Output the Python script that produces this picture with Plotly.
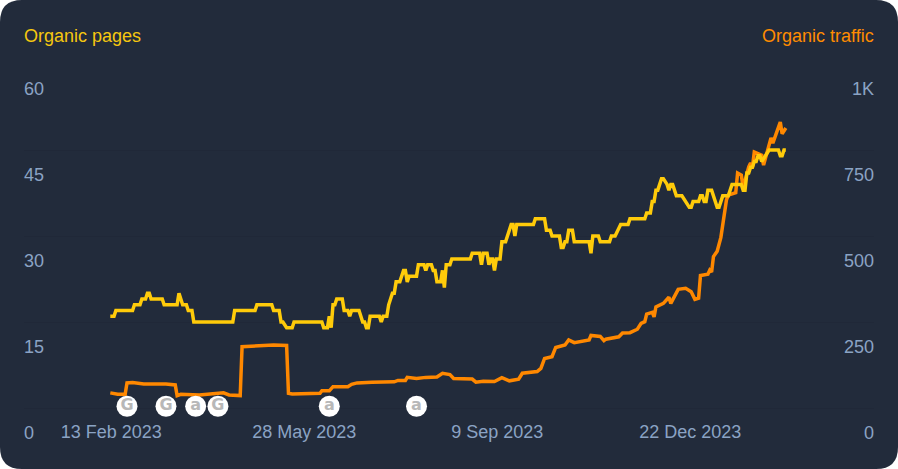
import datetime as dt
import plotly.graph_objects as go

START = dt.date(2023, 2, 13)

pages_days = [0,2,3,12,13,16,17,19,20,21,22,28,29,36,37,39,41,42,44,45,66,67,78,79,87,88,91,92,93,95,98,99,114,115,117,118,119,120,121,122,125,126,128,129,130,134,136,137,138,139,140,145,146,147,149,150,152,153,154,156,158,159,160,161,165,166,169,170,171,173,174,175,176,178,179,180,181,183,184,194,195,199,200,201,203,204,205,206,207,208,210,211,213,214,216,217,218,219,228,229,234,235,237,238,242,243,244,245,246,247,249,250,258,259,260,263,264,269,270,272,275,279,280,288,289,291,292,293,294,295,297,298,300,301,302,303,305,308,310,312,313,314,317,318,319,320,321,322,324,327,328,330,333,334,335,340,341,342,343,344,345,346,347,348,349,350,351,353,355,360,361,362,363,364]
pages = [16,16,17,17,18,18,19,19,20,20,19,19,18,18,20,18,18,17,17,15,15,17,17,18,18,17,17,15,15,14,14,15,15,14,14,16,14,18,18,19,19,17,17,16,17,17,15,15,14,14,16,16,15,16,16,18,20,20,22,22,24,24,22,23,23,25,25,24,25,25,24,24,22,22,24,21,25,25,26,26,27,27,25,27,27,25,26,26,24,26,26,29,29,30,32,32,30,32,32,33,33,31,31,30,30,28,28,29,29,31,31,29,29,27,30,30,29,29,30,30,32,32,33,33,34,34,36,36,38,38,40,40,39,38,39,39,37,37,36,35,35,36,36,37,37,36,36,38,38,35,35,37,37,38,39,39,38,38,41,41,42,42,43,43,44,44,43,44,45,45,44,44,45,45]

traffic_days = [0,4,8,9,12,18,30,35,36,38,48,61,64,70,71,79,88,95,96,98,113,114,118,120,124,128,130,133,141,153,155,159,160,165,170,176,179,183,185,195,197,201,207,211,215,220,222,230,232,234,238,240,245,247,250,258,259,264,266,267,274,276,280,284,286,288,289,292,293,294,298,301,302,306,310,313,315,317,318,322,323,324,325,327,329,331,332,333,337,338,340,341,343,344,345,346,347,351,352,354,356,357,359,361,362,364]
traffic = [44,40,40,73,74,70,70,67,36,40,38,44,38,36,178,180,183,182,43,41,43,50,50,62,61,62,69,73,75,76,80,80,89,86,89,90,101,97,86,84,75,78,77,88,79,84,101,106,115,144,149,176,183,198,190,198,211,208,196,200,207,218,219,229,246,251,273,278,265,294,304,322,304,345,348,338,316,319,385,389,401,395,440,456,496,560,605,619,626,683,677,640,683,701,712,700,744,735,706,750,785,770,800,831,797,814]

marker_days = [9, 30, 46, 58, 118, 165]
marker_labels = ["G", "G", "a", "G", "a", "a"]
marker_level = [0.3] * 6

x_ticks = ["2023-02-13", "2023-05-28", "2023-09-09", "2023-12-22"]
pages_ticks = [0, 15, 30, 45, 60]
traffic_ticks = [0, 250, 500, 750, 1000]
traffic_tick_text = ["0", "250", "500", "750", "1K"]

def to_dates(days):
    return [START + dt.timedelta(days=d) for d in days]

BG = "#222b3b"
GRID = "#202838"
TICK = "#8ba3c4"
YELLOW = "#ffcb0a"
ORANGE = "#ff8800"
FONT = "Liberation Sans, Arial, sans-serif"

# The value axes run a little below zero so the zero labels (drawn under the baseline) stay visible.
PAGES_RANGE = [-40 * 60 / 344, 60]
TRAFFIC_RANGE = [-40 * 1000 / 344, 1000]

fig = go.Figure()
fig.add_trace(go.Scatter(x=to_dates(traffic_days), y=traffic, yaxis="y", mode="lines",
                         line=dict(color=ORANGE, width=3.5), hoverinfo="skip"))
fig.add_trace(go.Scatter(x=to_dates(pages_days), y=pages, yaxis="y2", mode="lines",
                         line=dict(color=YELLOW, width=3.5), hoverinfo="skip"))
fig.add_trace(go.Scatter(x=to_dates(marker_days), y=marker_level, yaxis="y2", mode="markers+text",
                         marker=dict(color="white", size=21), text=marker_labels,
                         textposition="middle center",
                         textfont=dict(family="DejaVu Sans, sans-serif", size=16, color="#b8b8b8", weight="bold"),
                         cliponaxis=False, hoverinfo="skip"))

r_x, r_y = 22 / 898, 22 / 469
panel = (f"M {r_x} 0 L {1-r_x} 0 Q 1 0 1 {r_y} L 1 {1-r_y} Q 1 1 {1-r_x} 1 "
         f"L {r_x} 1 Q 0 1 0 {1-r_y} L 0 {r_y} Q 0 0 {r_x} 0 Z")

fig.update_layout(
    width=898, height=469, showlegend=False,
    margin=dict(l=0, r=0, t=0, b=0, pad=0),
    paper_bgcolor="white", plot_bgcolor="rgba(0,0,0,0)",
    font=dict(family=FONT, size=18, color=TICK),
    shapes=[dict(type="path", path=panel, xref="paper", yref="paper",
                 fillcolor=BG, line=dict(width=0), layer="below")],
    xaxis=dict(domain=[24/898, 874/898], range=["2022-12-28 12:00", "2024-03-30 12:00"], type="date", showgrid=False,
               zeroline=False, showline=False, automargin=False, anchor="free", position=61/469,
               tickmode="array", tickvals=x_ticks, tickformat="%-d %b %Y", ticks="outside", ticklen=7,
               ticklabelshift=1,
               tickcolor="rgba(0,0,0,0)", tickfont=dict(size=18, color=TICK, family=FONT)),
    yaxis=dict(domain=[21/469, 405/469], range=TRAFFIC_RANGE, side="right", showgrid=True, gridcolor=GRID, gridwidth=1,
               zeroline=False, tickmode="array", tickvals=traffic_ticks, ticktext=traffic_tick_text,
               ticklabelposition="inside", ticklabelshift=25, ticklabelstandoff=-3,
               tickfont=dict(size=18, color=TICK, family=FONT), ticks=""),
    yaxis2=dict(domain=[21/469, 405/469], range=PAGES_RANGE, side="left", overlaying="y", showgrid=False, zeroline=False,
                tickmode="array", tickvals=pages_ticks,
                ticklabelposition="inside", ticklabelshift=25, ticklabelstandoff=-3,
                tickfont=dict(size=18, color=TICK, family=FONT), ticks=""),
    annotations=[
        dict(text="Organic pages", xref="paper", yref="paper", x=24/898, y=1-36/469, xanchor="left", yanchor="middle",
             showarrow=False, xshift=-2, font=dict(size=18, color="#f5c70f", family=FONT)),
        dict(text="Organic traffic", xref="paper", yref="paper", x=874/898, y=1-36/469, xanchor="right", yanchor="middle",
             showarrow=False, xshift=2, font=dict(size=18, color="#ff8c00", family=FONT)),
    ],
)

fig.write_html("out.html", config={"displayModeBar": False},
               post_script="document.body.style.margin='0';document.body.style.overflow='hidden';")
